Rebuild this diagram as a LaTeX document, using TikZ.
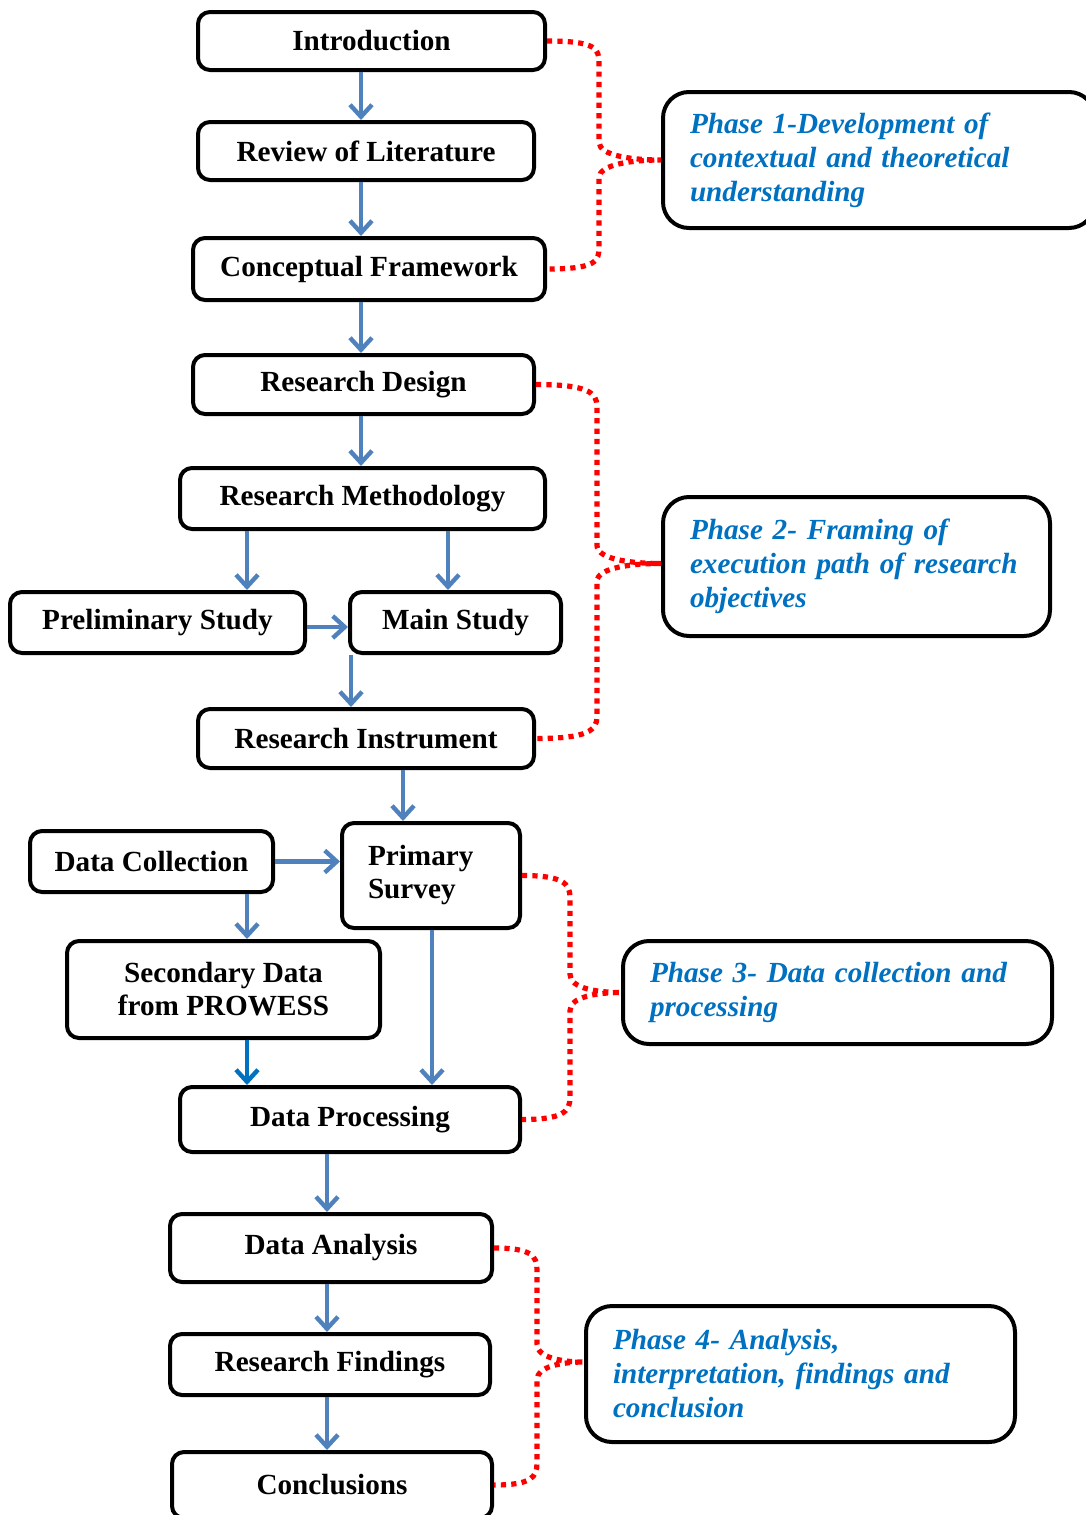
\documentclass[tikz,border=0pt]{standalone}
\usepackage{fontspec}
\setmainfont{Liberation Serif}
\usetikzlibrary{calc,arrows.meta}
\definecolor{arrowblue}{RGB}{79,129,189}
\definecolor{phaseblue}{RGB}{0,112,192}

% dotted brace: top node, bottom node, tip, offset
\newcommand{\phasebrace}[4]{%
  \draw[brace] (#1.east) .. controls +(#4*0.8,0) and +(0,14) .. ($(#1.east -| #3)+(-#4,-22)$)
    -- ($(#3)+(-#4,18)$) .. controls +(0,-14) and +(-#4*0.45,0) .. (#3)
    .. controls +(-#4*0.45,0) and +(0,14) .. ($(#3)+(-#4,-18)$)
    -- ($(#2.east -| #3)+(-#4,22)$) .. controls +(0,-14) and +(#4*0.8,0) .. (#2.east);}

\begin{document}
\begin{tikzpicture}[x=0.5pt,y=0.5pt,
    stepbox/.style={draw=black, line width=2pt, rounded corners=6pt, fill=white,
      font=\fontsize{14.6}{16.5}\selectfont\bfseries, align=center, inner sep=0pt},
    phasebox/.style={draw=black, line width=2pt, rounded corners=13pt, text=phaseblue,
      font=\fontsize{14.6}{17}\selectfont\bfseries\itshape, align=left, inner xsep=0pt},
    flow/.style={draw=arrowblue, line width=2.2pt, -{Straight Barb[length=6pt,width=11pt]}},
    brace/.style={draw=red, line width=2.6pt, dash pattern=on 2.6pt off 2.6pt}]
    \useasboundingbox (0,0) rectangle (1086,-1515);

%steps
    \node[stepbox, minimum width=173.5pt, minimum height=29pt] (intro) at (371.5,-41) {Introduction};
    \node[stepbox, minimum width=168pt, minimum height=29pt] (review) at (366,-151) {Review of Literature};
    \node[stepbox, minimum width=176pt, minimum height=31pt] (concept) at (369,-269) {Conceptual Framework};
    \node[stepbox, minimum width=170.5pt, minimum height=29.5pt] (design) at (363.5,-384.5) {Research Design};
    \node[stepbox, minimum width=182.5pt, minimum height=30.5pt] (method) at (362.5,-498.5) {Research Methodology};
    \node[stepbox, minimum width=147.5pt, minimum height=30.5pt] (prelim) at (157.5,-622.5) {Preliminary Study};
    \node[stepbox, minimum width=105.5pt, minimum height=30.5pt] (mainst) at (455.5,-622.5) {Main Study};
    \node[stepbox, minimum width=168pt, minimum height=29.5pt] (instr) at (366,-738.5) {Research Instrument};
    \node[stepbox, minimum width=121.5pt, minimum height=30.5pt] (collect) at (151.5,-861.5) {Data Collection};
    \node[stepbox, minimum width=89pt, minimum height=52.5pt, text width=63pt, align=left] (primary) at (431,-875.5) {Primary\\Survey};
    \node[stepbox, minimum width=156.5pt, minimum height=48.5pt] (second) at (223.5,-989.5) {Secondary Data\\from PROWESS};
    \node[stepbox, minimum width=170pt, minimum height=32.5pt] (process) at (350,-1119.5) {Data Processing};
    \node[stepbox, minimum width=161pt, minimum height=34pt] (analysis) at (331,-1248) {Data Analysis};
    \node[stepbox, minimum width=160pt, minimum height=30.5pt] (findings) at (330,-1364.5) {Research Findings};
    \node[stepbox, minimum width=160pt, minimum height=33pt] (concl) at (332,-1485) {Conclusions};

%phases
    \node[phasebox, minimum width=216pt, minimum height=68pt, text width=189pt] (ph1) at (879,-160)
      {Phase 1-Development of\\contextual and theoretical\\understanding};
    \node[phasebox, minimum width=193.5pt, minimum height=69.5pt, text width=166.5pt] (ph2) at (856.5,-566.5)
      {Phase 2- Framing of\\execution path of research\\objectives};
    \node[phasebox, minimum width=214.5pt, minimum height=51.5pt, text width=187.5pt] (ph3) at (837.5,-992.5)
      {Phase 3- Data collection and\\processing};
    \node[phasebox, minimum width=214.5pt, minimum height=68pt, text width=187.5pt] (ph4) at (800.5,-1374)
      {Phase 4- Analysis,\\interpretation, findings and\\conclusion};

%arrows
    \draw[flow] (intro.south -| 361,0) -- (review.north -| 361,0);
    \draw[flow] (review.south -| 361,0) -- (concept.north -| 361,0);
    \draw[flow] (concept.south -| 361,0) -- (design.north -| 361,0);
    \draw[flow] (design.south -| 361,0) -- (method.north -| 361,0);
    \draw[flow] (method.south -| 247,0) -- (prelim.north -| 247,0);
    \draw[flow] (method.south -| 448,0) -- (mainst.north -| 448,0);
    \draw[flow] (prelim.east |- 0,-627) -- (mainst.west |- 0,-627);
    \draw[flow] (mainst.south -| 351,0) -- (instr.north -| 351,0);
    \draw[flow] (instr.south -| 403,0) -- (primary.north -| 403,0);
    \draw[flow] (collect.east) -- (primary.west |- collect.east);
    \draw[flow] (collect.south -| 247,0) -- (second.north -| 247,0);
    \draw[flow] (primary.south -| 432,0) -- (process.north -| 432,0);
    \draw[flow, draw=phaseblue] (second.south -| 247,0) -- (process.north -| 247,0);
    \draw[flow] (process.south -| 327,0) -- (analysis.north -| 327,0);
    \draw[flow] (analysis.south -| 327,0) -- (findings.north -| 327,0);
    \draw[flow] (findings.south -| 327,0) -- (concl.north -| 327,0);

%braces
    \coordinate (t1) at (ph1.west);
    \coordinate (t2) at ($(ph2.west)+(0,3)$);
    \coordinate (t3) at (ph3.west);
    \coordinate (t4) at ($(ph4.west)+(0,12)$);
    \phasebrace{intro}{concept}{t1}{62}
    \phasebrace{design}{instr}{t2}{64}
    \phasebrace{primary}{process}{t3}{51}
    \phasebrace{analysis}{concl}{t4}{47}

\end{tikzpicture}
\end{document}
